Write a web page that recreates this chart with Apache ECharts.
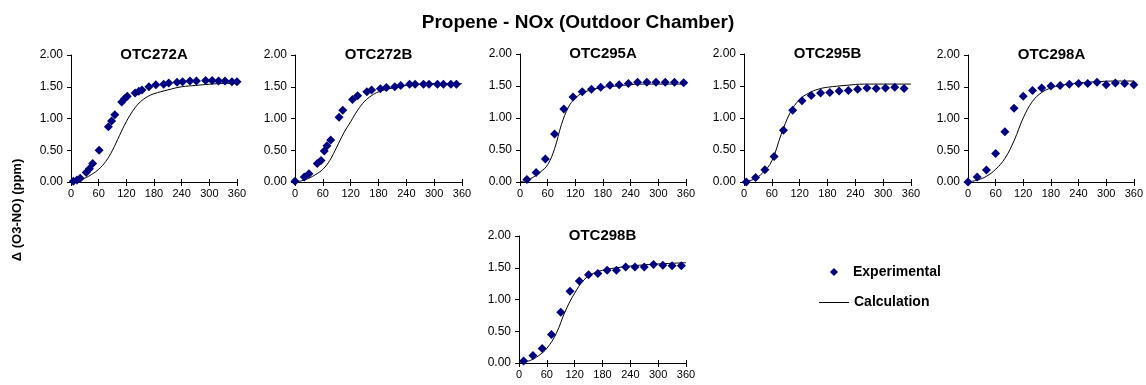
<!DOCTYPE html>
<html>
<head>
<meta charset="utf-8">
<script src="https://cdn.jsdelivr.net/npm/echarts@6/dist/echarts.min.js"></script>
<style>
  html, body { margin: 0; padding: 0; background: #fff; }
  #main { width: 1146px; height: 385px; }
</style>
</head>
<body>
<div id="main"></div>
<script>
// run names, in panel order
var runNames = ['OTC272A', 'OTC272B', 'OTC295A', 'OTC295B', 'OTC298A', 'OTC298B'];
var xTicks = [0, 60, 120, 180, 240, 300, 360];

// experimental points [minutes, ppm]
var exp272A = [[5,0.01],[13,0.03],[20,0.06],[33,0.15],[40,0.21],[47,0.29],[61,0.50],[81,0.87],[88,0.96],[95,1.06],
  [110,1.26],[116,1.31],[122,1.35],[139,1.40],[147,1.43],[154,1.45],[169,1.50],[184,1.53],[201,1.54],[212,1.56],
  [230,1.57],[242,1.58],[258,1.59],[272,1.59],[292,1.60],[306,1.60],[320,1.59],[334,1.59],[349,1.58],[360,1.58]];
var exp272B = [[0,0.01],[20,0.08],[30,0.13],[48,0.29],[56,0.34],[63,0.49],[69,0.57],[77,0.66],[95,1.02],[103,1.13],
  [124,1.30],[135,1.36],[155,1.42],[165,1.45],[184,1.47],[197,1.49],[215,1.50],[228,1.52],[247,1.54],[259,1.54],
  [277,1.54],[289,1.54],[307,1.54],[320,1.54],[336,1.54],[348,1.54]];
var exp295A = [[15,0.04],[35,0.15],[55,0.36],[75,0.75],[95,1.14],[115,1.33],[135,1.41],[155,1.45],[175,1.48],
  [195,1.51],[215,1.52],[235,1.54],[255,1.56],[275,1.56],[295,1.56],[315,1.56],[335,1.56],[355,1.55]];
var exp295B = [[5,0.00],[25,0.07],[45,0.19],[65,0.40],[85,0.81],[105,1.12],[125,1.27],[145,1.35],[165,1.39],
  [185,1.40],[205,1.42],[225,1.43],[245,1.45],[265,1.47],[285,1.46],[305,1.47],[325,1.48],[345,1.46]];
var exp298A = [[0,0.00],[20,0.08],[40,0.19],[60,0.45],[80,0.79],[100,1.16],[120,1.35],[140,1.44],[160,1.48],
  [180,1.51],[200,1.52],[220,1.54],[240,1.55],[260,1.55],[280,1.57],[300,1.53],[320,1.56],[340,1.55],[360,1.53]];
var exp298B = [[10,0.03],[30,0.12],[50,0.23],[70,0.45],[90,0.80],[110,1.13],[130,1.29],[150,1.39],[170,1.41],
  [190,1.46],[210,1.46],[230,1.51],[250,1.51],[270,1.51],[290,1.55],[310,1.54],[330,1.53],[350,1.53]];

// model calculation [minutes, ppm]
var calc272A = [[0,0],[15,0.02],[30,0.06],[45,0.12],[60,0.20],[75,0.32],[90,0.50],[105,0.73],[120,0.95],[135,1.13],
  [150,1.26],[165,1.34],[180,1.39],[210,1.45],[240,1.50],[270,1.52],[300,1.54],[330,1.55],[360,1.55]];
var calc272B = [[0,0],[15,0.02],[30,0.06],[45,0.12],[60,0.20],[75,0.34],[90,0.55],[105,0.77],[120,0.95],[135,1.13],
  [150,1.27],[165,1.36],[180,1.42],[210,1.48],[240,1.52],[270,1.54],[300,1.55],[330,1.55],[360,1.55]];
var calc295A = [[0,0],[15,0.03],[30,0.08],[45,0.16],[60,0.27],[75,0.52],[90,0.90],[105,1.17],[120,1.31],[135,1.39],
  [150,1.43],[180,1.48],[210,1.50],[240,1.52],[270,1.53],[300,1.53],[330,1.53],[360,1.53]];
var calc295B = [[0,0],[20,0.04],[40,0.14],[60,0.33],[80,0.74],[100,1.09],[120,1.29],[140,1.39],[160,1.45],
  [180,1.48],[220,1.51],[260,1.53],[300,1.53],[330,1.53],[360,1.53]];
var calc298A = [[0,0],[20,0.03],[40,0.09],[60,0.20],[80,0.37],[100,0.65],[120,1.01],[140,1.27],[160,1.41],
  [180,1.48],[200,1.52],[240,1.56],[280,1.58],[320,1.59],[360,1.59]];
var calc298B = [[0,0],[15,0.02],[30,0.06],[45,0.13],[60,0.23],[80,0.46],[100,0.82],[120,1.10],[140,1.31],
  [160,1.41],[180,1.46],[220,1.51],[260,1.54],[300,1.56],[330,1.57],[360,1.58]];

var expData = [exp272A, exp272B, exp295A, exp295B, exp298A, exp298B];
var calcData = [calc272A, calc272B, calc295A, calc295B, calc298A, calc298B];

// plot boxes
var boxes = [
  {left: 71, top: 55, width: 166, height: 127},
  {left: 295, top: 55, width: 167, height: 127},
  {left: 520, top: 54, width: 166, height: 128},
  {left: 744, top: 54, width: 167, height: 128},
  {left: 968, top: 55, width: 167, height: 127},
  {left: 519, top: 236, width: 167, height: 127}
];

var FONT = 'Liberation Sans, Arial, sans-serif';
var NAVY = '#000080';
var myChart = echarts.init(document.getElementById('main'));

var grids = [], xAxes = [], yAxes = [], series = [];
var titles = [{
  text: 'Propene - NOx (Outdoor Chamber)',
  left: 573, top: 8, textAlign: 'center',
  textStyle: {fontFamily: FONT, fontSize: 19, fontWeight: 'bold', color: '#000'}
}];

for (var i = 0; i < runNames.length; i++) {
  var b = boxes[i];
  grids.push({left: b.left, top: b.top, width: b.width, height: b.height, containLabel: false});
  titles.push({
    text: runNames[i],
    left: b.left + b.width / 2 - 5, top: b.top - 13, textAlign: 'center',
    textStyle: {fontFamily: FONT, fontSize: 15, fontWeight: 'bold', color: '#000'}
  });
  xAxes.push({
    type: 'value', gridIndex: i, min: xTicks[0], max: xTicks[xTicks.length - 1], interval: 60,
    axisLine: {lineStyle: {color: '#000', width: 1}},
    axisTick: {show: true, length: 4, lineStyle: {color: '#000'}},
    axisLabel: {color: '#000', fontFamily: FONT, fontSize: 11, margin: 6},
    splitLine: {show: false}
  });
  // second axis only for the inner half of the crossing ticks
  xAxes.push({
    type: 'value', gridIndex: i, min: 0, max: 360, interval: 60, position: 'bottom',
    axisLine: {show: false},
    axisTick: {show: true, inside: true, length: 3, lineStyle: {color: '#000'}},
    axisLabel: {show: false},
    splitLine: {show: false}
  });
  yAxes.push({
    type: 'value', gridIndex: i, min: 0, max: 2, interval: 0.5,
    axisLine: {show: true, lineStyle: {color: '#000', width: 1}},
    axisTick: {show: true, length: 4, lineStyle: {color: '#000'}},
    axisLabel: {color: '#000', fontFamily: FONT, fontSize: 12, margin: 8,
      formatter: function (v) { return v.toFixed(2); }},
    splitLine: {show: false}
  });
  series.push({
    name: 'Calculation', type: 'line', xAxisIndex: 2 * i, yAxisIndex: i,
    data: calcData[i], smooth: 0.4, symbol: 'none', silent: true,
    itemStyle: {color: '#000'},
    lineStyle: {color: '#000', width: 1}, z: 2
  });
  series.push({
    name: 'Experimental', type: 'scatter', xAxisIndex: 2 * i, yAxisIndex: i,
    data: expData[i], symbol: 'diamond', symbolSize: 9,
    itemStyle: {color: NAVY, opacity: 1}, z: 3
  });
}

var option = {
  animation: false,
  backgroundColor: '#fff',
  title: titles,
  legend: [{
    data: [{name: 'Experimental', icon: 'diamond'}], left: 830, top: 265, padding: 0,
    itemWidth: 8, itemHeight: 8, itemGap: 0,
    itemStyle: {color: NAVY, opacity: 1},
    textStyle: {fontFamily: FONT, fontSize: 14, fontWeight: 'bold', color: '#000', padding: [0, 0, 0, 10]}
  }, {
    data: [{name: 'Calculation', icon: 'rect'}], left: 819, top: 295.5, padding: 0,
    itemWidth: 30, itemHeight: 1, itemGap: 0,
    itemStyle: {color: '#000'},
    lineStyle: {width: 0},
    textStyle: {fontFamily: FONT, fontSize: 14, fontWeight: 'bold', color: '#000'}
  }],
  graphic: [{
    type: 'text', x: 17, y: 210, rotation: Math.PI / 2,
    style: {text: '\u0394 (O3-NO) (ppm)', align: 'center', verticalAlign: 'middle',
      fontFamily: FONT, fontSize: 13, fontWeight: 'bold', fill: '#000'}
  }],
  grid: grids,
  xAxis: xAxes,
  yAxis: yAxes,
  series: series
};
myChart.setOption(option);
</script>
</body>
</html>
